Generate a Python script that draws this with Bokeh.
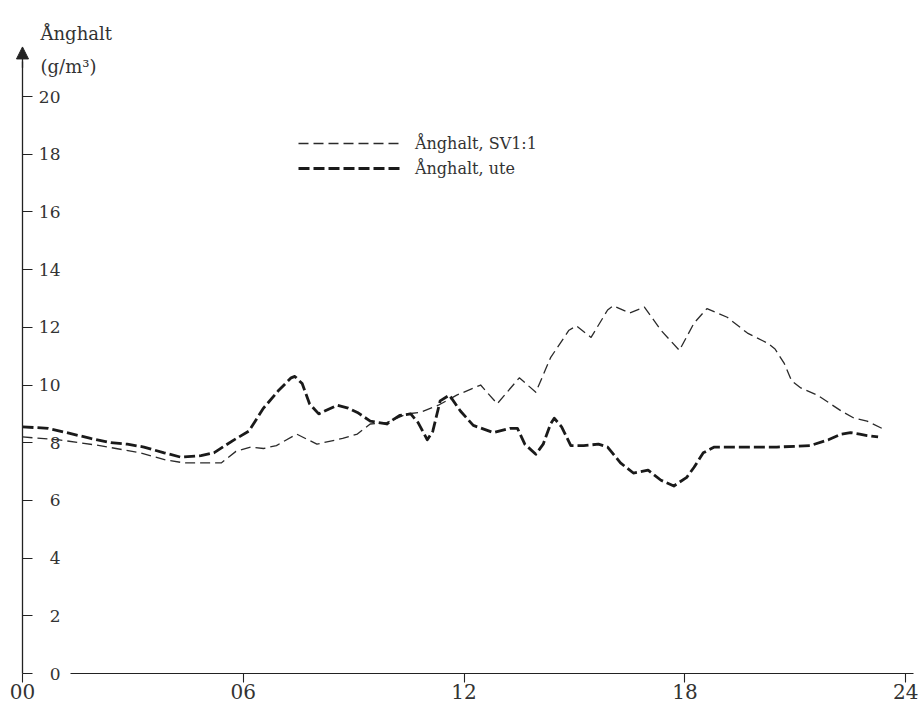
from bokeh.plotting import figure
from bokeh.models import (Range1d, LinearAxis, FixedTicker, Arrow, NormalHead,
                          Label, Legend, LegendItem)
from bokeh.embed import file_html
from bokeh.resources import INLINE

FONT = "DejaVu Serif"
INK = "#222222"

# Water vapour content (g/m³) over one day, hour of day on x
hours_sv = [0.0, 1.0, 2.1, 3.2, 3.9, 4.4, 5.4, 5.8, 6.2, 6.55,
            6.9, 7.45, 8.0, 8.7, 9.1, 9.45, 9.9, 10.45, 10.8, 11.3,
            11.8, 12.45, 12.9, 13.5, 13.95, 14.35, 14.85, 15.05, 15.45, 15.9,
            16.05, 16.5, 16.9, 17.35, 17.85, 18.25, 18.6, 19.15, 19.7, 20.25,
            20.45, 20.7, 20.9, 21.15, 21.6, 22.25, 22.6, 22.95, 23.35]
vapour_sv = [8.2, 8.1, 7.9, 7.65, 7.4, 7.3, 7.3, 7.7, 7.85, 7.8,
             7.9, 8.3, 7.95, 8.15, 8.3, 8.65, 8.7, 9.0, 9.05, 9.3,
             9.65, 10.0, 9.35, 10.25, 9.75, 10.95, 11.9, 12.05, 11.65, 12.6,
             12.75, 12.5, 12.7, 11.9, 11.2, 12.15, 12.65, 12.35, 11.8, 11.45,
             11.25, 10.75, 10.15, 9.9, 9.65, 9.1, 8.85, 8.75, 8.5]

hours_ute = [0.0, 0.7, 1.2, 1.85, 2.4, 2.85, 3.3, 3.85, 4.3, 4.85,
             5.2, 5.75, 6.15, 6.55, 6.95, 7.3, 7.4, 7.6, 7.8, 8.05,
             8.55, 8.85, 9.1, 9.45, 9.9, 10.25, 10.55, 10.75, 11.0, 11.15,
             11.35, 11.6, 11.9, 12.25, 12.8, 13.25, 13.45, 13.65, 13.95, 14.15,
             14.35, 14.45, 14.65, 14.9, 15.25, 15.65, 15.9, 16.25, 16.6, 17.0,
             17.35, 17.7, 18.05, 18.25, 18.5, 18.8, 19.6, 20.5, 21.4, 21.9,
             22.25, 22.5, 22.75, 22.95, 23.25]
vapour_ute = [8.55, 8.5, 8.35, 8.15, 8.0, 7.95, 7.85, 7.65, 7.5, 7.55,
              7.65, 8.1, 8.4, 9.2, 9.8, 10.25, 10.3, 10.05, 9.35, 9.0,
              9.3, 9.2, 9.05, 8.75, 8.65, 8.95, 9.0, 8.7, 8.1, 8.4,
              9.45, 9.65, 9.1, 8.6, 8.35, 8.5, 8.5, 7.95, 7.6, 7.95,
              8.65, 8.85, 8.55, 7.9, 7.9, 7.95, 7.85, 7.3, 6.95, 7.05,
              6.7, 6.5, 6.8, 7.15, 7.65, 7.85, 7.85, 7.85, 7.9, 8.1,
              8.3, 8.35, 8.3, 8.25, 8.2]

y_ticks = [0, 2, 4, 6, 8, 10, 12, 14, 16, 18, 20]
x_ticks = [0, 6, 12, 18, 24]
x_tick_labels = ["00", "06", "12", "18", "24"]

label_sv = "Ånghalt, SV1:1"
label_ute = "Ånghalt, ute"
y_title = "Ånghalt"
y_unit = "(g/m³)"

p = figure(width=922, height=711, output_backend="svg", toolbar_location=None,
           x_range=Range1d(-0.489, 24.457), y_range=Range1d(-1.317, 23.33),
           x_axis_type=None, y_axis_type=None,
           min_border_left=4, min_border_right=0, min_border_top=0,
           min_border_bottom=0)
p.outline_line_color = None
p.background_fill_color = "white"
p.border_fill_color = "white"

# vertical axis pinned at hour 0: ticks pointing inward, numbers right of the rule
yaxis = LinearAxis(ticker=FixedTicker(ticks=y_ticks), bounds=(0, 21.2),
                   fixed_location=0,
                   axis_line_color=INK, axis_line_width=1.3,
                   major_tick_in=10, major_tick_out=0,
                   major_tick_line_color=INK, major_tick_line_width=1.1,
                   minor_tick_line_color=None,
                   major_label_standoff=-38,
                   major_label_text_font=FONT,
                   major_label_text_font_size="17px",
                   major_label_text_color="#333333")
p.add_layout(yaxis, "left")

# horizontal rule at zero, starting right of the "0" label
x_rule = LinearAxis(ticker=FixedTicker(ticks=[]), bounds=(1.3, 24.2),
                    fixed_location=0,
                    axis_line_color=INK, axis_line_width=1.2,
                    major_tick_in=0, major_tick_out=0,
                    minor_tick_in=0, minor_tick_out=0,
                    major_label_standoff=0,
                    major_label_text_font_size="0px")
p.add_layout(x_rule, "below")

xaxis = LinearAxis(ticker=FixedTicker(ticks=x_ticks), fixed_location=0,
                   axis_line_color=None,
                   major_tick_in=0, major_tick_out=9,
                   major_tick_line_color=INK, major_tick_line_width=1.1,
                   minor_tick_line_color=None,
                   major_label_overrides={t: s for t, s in zip(x_ticks, x_tick_labels)},
                   major_label_standoff=1,
                   major_label_text_font=FONT,
                   major_label_text_font_size="20px",
                   major_label_text_color="#333333")
p.add_layout(xaxis, "below")

# arrowhead on top of the vertical axis
p.add_layout(Arrow(end=NormalHead(size=12, fill_color=INK, line_color=INK),
                   x_start=0, y_start=21.0, x_end=0, y_end=21.72,
                   line_color=INK, line_width=1.3))

p.add_layout(Label(x=0.49, y=22.18, text=y_title, text_font=FONT,
                   text_font_size="18px", text_color="#333333",
                   text_baseline="alphabetic"))
p.add_layout(Label(x=0.49, y=21.04, text=y_unit, text_font=FONT,
                   text_font_size="18px", text_color="#333333",
                   text_baseline="alphabetic"))

r_sv = p.line(hours_sv, vapour_sv, line_color="#2a2a2a", line_width=1.3,
              line_dash="10 5", line_join="round")
r_ute = p.line(hours_ute, vapour_ute, line_color="#1a1a1a", line_width=2.8,
               line_dash="11 4", line_join="round")

legend = Legend(items=[LegendItem(label=label_sv, renderers=[r_sv]),
                       LegendItem(label=label_ute, renderers=[r_ute])],
                location=(294, 533), orientation="vertical",
                glyph_width=105, glyph_height=20, label_height=20,
                label_standoff=12, spacing=5, padding=0, margin=0,
                border_line_color=None, background_fill_alpha=0,
                label_text_font=FONT, label_text_font_size="16px",
                label_text_color="#333333")
p.add_layout(legend)

open("out.html", "w").write(file_html(p, INLINE))
